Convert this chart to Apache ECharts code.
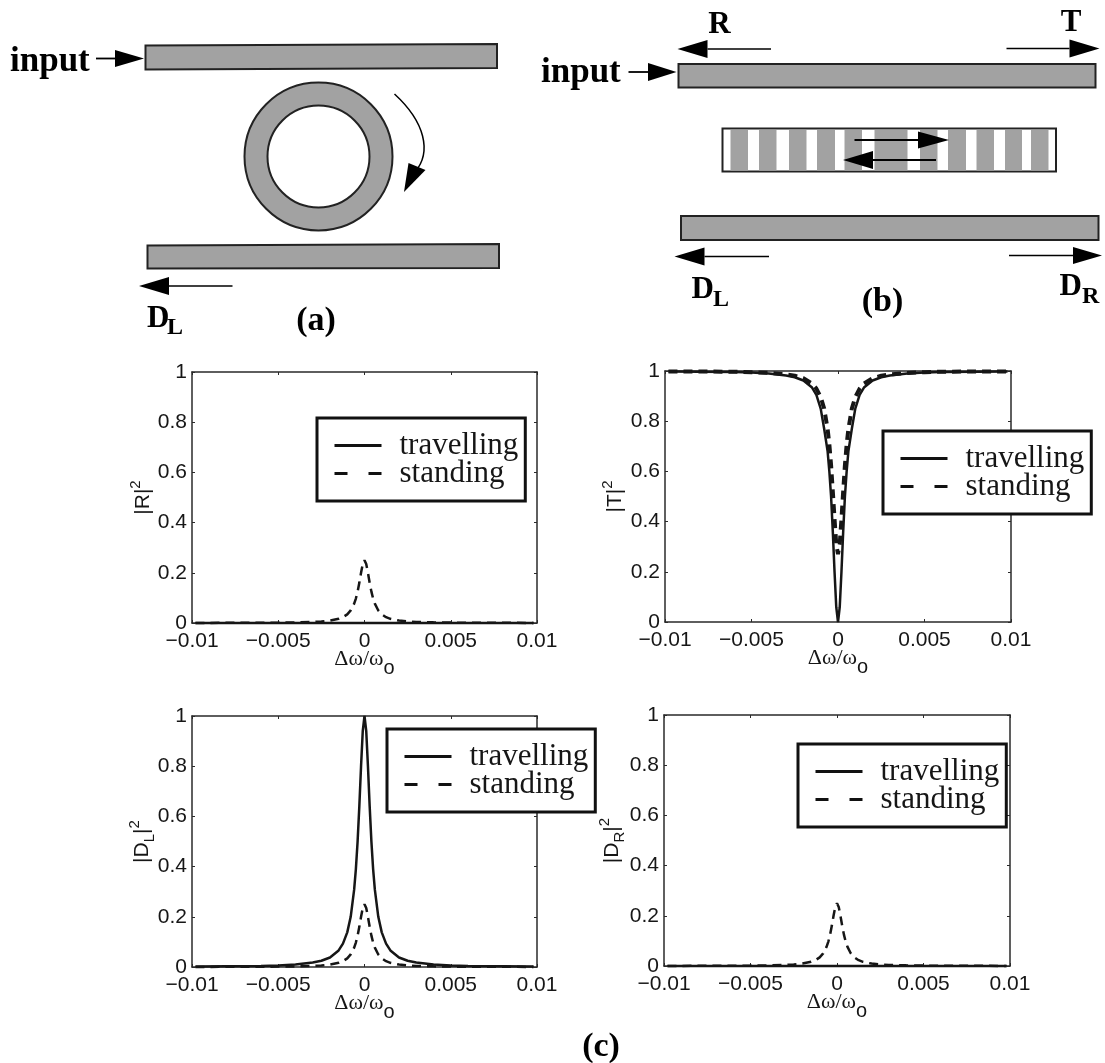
<!DOCTYPE html>
<html>
<head>
<meta charset="utf-8">
<style>html,body{margin:0;padding:0;background:#fff}#c{width:1105px;height:1063px}</style>
<script src="https://cdn.jsdelivr.net/npm/echarts@6/dist/echarts.min.js"></script>
</head>
<body>
<div id="c"></div>
<script>
// ---- data ----
const detuning = [-0.0098,-0.008,-0.006,-0.005,-0.004,-0.003,-0.0025,-0.002,-0.0015,-0.00125,-0.001,-0.0008,-0.0006,-0.0005,-0.0004,-0.0003,-0.0002,-0.0001,0,
  0.0001,0.0002,0.0003,0.0004,0.0005,0.0006,0.0008,0.001,0.00125,0.0015,0.002,0.0025,0.003,0.004,0.005,0.006,0.008,0.0098];
const zeroTravelling = [0,0,0,0,0,0,0,0,0,0,0,0,0,0,0,0,0,0,0,0,0,0,0,0,0,0,0,0,0,0,0,0,0,0,0,0,0];
const dropLeftTravelling = [0.002,0.003,0.004,0.006,0.01,0.018,0.025,0.038,0.066,0.093,0.138,0.2,0.308,0.39,0.5,0.64,0.8,0.941,1,
  0.941,0.8,0.64,0.5,0.39,0.308,0.2,0.138,0.093,0.066,0.038,0.025,0.018,0.01,0.006,0.004,0.003,0.002];
const standingPeak = [0.0004,0.0006,0.001,0.0016,0.0025,0.0044,0.0063,0.0096,0.0166,0.0232,0.0345,0.05,0.077,0.0975,0.125,0.16,0.2,0.235,0.25,
  0.235,0.2,0.16,0.125,0.0975,0.077,0.05,0.0345,0.0232,0.0166,0.0096,0.0063,0.0044,0.0025,0.0016,0.001,0.0006,0.0004];
const transTravelling = [0.998,0.997,0.996,0.994,0.99,0.982,0.975,0.962,0.934,0.905,0.85,0.77,0.68,0.6,0.5,0.36,0.2,0.059,0,
  0.059,0.2,0.36,0.5,0.6,0.68,0.77,0.85,0.905,0.934,0.962,0.975,0.982,0.99,0.994,0.996,0.997,0.998];
const transStanding = [0.9985,0.998,0.997,0.9955,0.9925,0.9865,0.981,0.971,0.95,0.93,0.8965,0.85,0.769,0.7075,0.625,0.52,0.41,0.31,0.27,
  0.31,0.41,0.52,0.625,0.7075,0.769,0.85,0.8965,0.93,0.95,0.971,0.981,0.9865,0.9925,0.9955,0.997,0.998,0.9985];
const xTickLabels = ['\u22120.01','\u22120.005','0','0.005','0.01'];
const yTickLabels = ['0','0.2','0.4','0.6','0.8','1'];
const seriesNames = ['travelling','standing'];

// ---- layout ----
const SERIF = '"Liberation Serif"', SANS = '"Liberation Sans"', INK = '#161616';
const panels = [
  {rect:[192,372,345,251], yName:'{m||R|}{u|2}', gap:34, travelling:zeroTravelling, standing:standingPeak, tw:2.5, sw:2.5, legend:[317,418]},
  {rect:[665,371,346,251], yName:'{m||T|}{u|2}', gap:35, travelling:transTravelling, standing:transStanding, tw:2.5, sw:4, legend:[883,431]},
  {rect:[192,716,345,251], yName:'{m||D}{s|L}{m||}{u|2}', gap:35, travelling:dropLeftTravelling, standing:standingPeak, tw:2.5, sw:2.5, legend:[387,729]},
  {rect:[664,715,346,251], yName:'{m||D}{s|R}{m||}{u|2}', gap:37, travelling:zeroTravelling, standing:standingPeak, tw:2.5, sw:2.5, legend:[798,744]}
];

const grid = [], xAxis = [], yAxis = [], series = [], legend = [];
const pairs = d => detuning.map((x, i) => [x, d[i]]);
panels.forEach((p, i) => {
  grid.push({left:p.rect[0], top:p.rect[1], width:p.rect[2], height:p.rect[3], outerBoundsMode:'none', containLabel:false});
  const line = {show:true, onZero:false, lineStyle:{color:'#2a2a2a', width:1.5}};
  const tick = {show:true, inside:true, length:3, lineStyle:{color:'#2a2a2a', width:1}};
  const xBase = {type:'value', min:-0.01, max:0.01, interval:0.005, gridIndex:i, axisLine:line, axisTick:tick, splitLine:{show:false}};
  const yBase = {type:'value', min:0, max:1, interval:0.2, gridIndex:i, axisLine:line, axisTick:tick, splitLine:{show:false}};
  xAxis.push(Object.assign({}, xBase, {
    position:'bottom',
    axisLabel:{color:INK, fontFamily:SANS, fontSize:21, margin:8, showMinLabel:true, showMaxLabel:true, hideOverlap:false,
      formatter:(v, k) => xTickLabels[k]},
    name:'{a|\u0394\u03c9/\u03c9}{b|o}', nameLocation:'middle', nameGap:25, nameMoveOverlap:false,
    nameTextStyle:{rich:{a:{fontFamily:SERIF, fontSize:22, color:INK, lineHeight:30, verticalAlign:'top'},
                         b:{fontFamily:SANS, fontSize:20, color:INK, lineHeight:30, verticalAlign:'bottom'}}}
  }));
  xAxis.push(Object.assign({}, xBase, {position:'top', axisLabel:{show:false}}));
  yAxis.push(Object.assign({}, yBase, {
    position:'left',
    axisLabel:{color:INK, fontFamily:SANS, fontSize:21, margin:5, showMinLabel:true, showMaxLabel:true, hideOverlap:false,
      formatter:(v, k) => yTickLabels[k]},
    name:p.yName, nameLocation:'middle', nameRotate:90, nameGap:p.gap, nameMoveOverlap:false,
    nameTextStyle:{rich:{m:{fontFamily:SANS, fontSize:21, color:INK, lineHeight:30, verticalAlign:'middle'},
                         s:{fontFamily:SANS, fontSize:15, color:INK, lineHeight:30, verticalAlign:'bottom'},
                         u:{fontFamily:SANS, fontSize:15, color:INK, lineHeight:30, verticalAlign:'top'}}}
  }));
  yAxis.push(Object.assign({}, yBase, {position:'right', axisLabel:{show:false}}));
  const common = {type:'line', xAxisIndex:i*2, yAxisIndex:i*2, showSymbol:false, symbol:'none', smooth:false, silent:true, animation:false, clip:false};
  series.push(Object.assign({}, common, {name:seriesNames[0], data:pairs(p.travelling), lineStyle:{color:INK, width:p.tw}, itemStyle:{color:INK}}));
  series.push(Object.assign({}, common, {name:seriesNames[1], data:pairs(p.standing), lineStyle:{color:INK, width:p.sw, type:[9,6]}, itemStyle:{color:INK}}));
  legend.push({
    left:p.legend[0], top:p.legend[1], orient:'vertical', selectedMode:false, z:6,
    backgroundColor:'#fff', borderColor:'#111', borderWidth:3, borderRadius:0,
    padding:[12,7,12,16], itemGap:-3, itemWidth:47, itemHeight:28,
    textStyle:{fontFamily:SERIF, fontSize:31, color:INK, lineHeight:28, padding:[0,0,0,13]},
    data:[
      {name:seriesNames[0], lineStyle:{color:'#111', width:3, type:'solid'}, itemStyle:{opacity:0}},
      {name:seriesNames[1], lineStyle:{color:'#111', width:3, type:[13,21]}, itemStyle:{opacity:0}}
    ]
  });
});

// ---- schematics (a), (b) ----
const G = [];
const FILL = '#a2a2a2', EDGE = '#222';
function guide(x1, y1, x2, y2, x3, y3, x4, y4) {
  G.push({type:'polygon', shape:{points:[[x1,y1],[x2,y2],[x3,y3],[x4,y4]]}, style:{fill:FILL, stroke:EDGE, lineWidth:2}, z:10});
}
function arrow(xEnd, xBase, xTip, y, half, w) {
  G.push({type:'line', shape:{x1:xEnd, y1:y, x2:xBase, y2:y}, style:{stroke:'#000', lineWidth:w||1.6}, z:12});
  G.push({type:'polygon', shape:{points:[[xBase,y-half],[xTip,y],[xBase,y+half]]}, style:{fill:'#000'}, z:12});
}
function label(text, x, baseline, size, align) {
  G.push({type:'text', x:x, y:baseline - 0.25*size, z:12, style:{text:text, fontFamily:SERIF, fontWeight:'bold', fontSize:size, fill:'#000',
    align:align||'left', verticalAlign:'middle'}});
}
// (a)
guide(145.5,45.5, 497,44, 497,68, 145.5,69.5);
guide(147.5,245.5, 499,244, 499,268, 147.5,268.5);
G.push({type:'ring', shape:{cx:318.5, cy:156.5, r:74, r0:51}, style:{fill:FILL, stroke:EDGE, lineWidth:2}, z:10});
G.push({type:'bezierCurve', shape:{x1:394.5,y1:94, cpx1:425,cpy1:122, cpx2:432,cpy2:152, x2:415,y2:172}, style:{stroke:'#000', lineWidth:1.5, fill:'none'}, z:12});
G.push({type:'polygon', shape:{points:[[404,192],[408.5,163],[425.5,170]]}, style:{fill:'#000'}, z:12});
label('input', 10, 71, 35);
arrow(96, 115, 144, 58.5, 8.5, 1.8);
arrow(232.5, 169, 139, 286, 9);
label('D', 147, 327, 31); label('L', 167, 334, 24);
label('(a)', 316, 330, 34, 'center');
// (b)
guide(678.5,64, 1095.5,64, 1095.5,87.5, 678.5,87.5);
guide(681,216, 1098.5,216, 1098.5,240, 681,240);
G.push({type:'rect', shape:{x:722.5, y:128.5, width:333.5, height:43}, style:{fill:'#fff', stroke:EDGE, lineWidth:2}, z:10});
[[730.5,748],[759,776.5],[789,806.5],[817,835],[844.5,862],[874.5,907.5],[920,937.5],[948,966],[976.5,994],[1005,1022],[1031,1048.5]]
  .forEach(s => G.push({type:'rect', shape:{x:s[0], y:130, width:s[1]-s[0], height:40.5}, style:{fill:FILL}, z:11}));
label('input', 541, 82, 35);
arrow(628.5, 648, 676.5, 72, 9, 1.8);
label('R', 719.5, 32.5, 31, 'center');
label('T', 1071, 30.5, 31, 'center');
arrow(771, 707.5, 677.5, 49, 9);
arrow(1006.5, 1069.5, 1099.5, 48.5, 9);
arrow(854.5, 918, 949, 140, 8.5, 2);
arrow(936, 873, 843, 160, 9, 2);
arrow(769, 704.5, 674.5, 256.5, 9);
arrow(1009, 1073, 1102, 255.5, 8.5);
label('D', 691.5, 297.5, 31); label('L', 713, 305.5, 24);
label('D', 1059.5, 295, 31); label('R', 1082, 302.5, 24);
label('(b)', 882.5, 311, 34, 'center');
label('(c)', 601, 1056, 34, 'center');

const chart = echarts.init(document.getElementById('c'), null, {renderer:'canvas'});
chart.setOption({
  animation:false, backgroundColor:'#fff', tooltip:{show:false},
  grid, xAxis, yAxis, series, legend, graphic:{elements:G}
});
</script>
</body>
</html>
